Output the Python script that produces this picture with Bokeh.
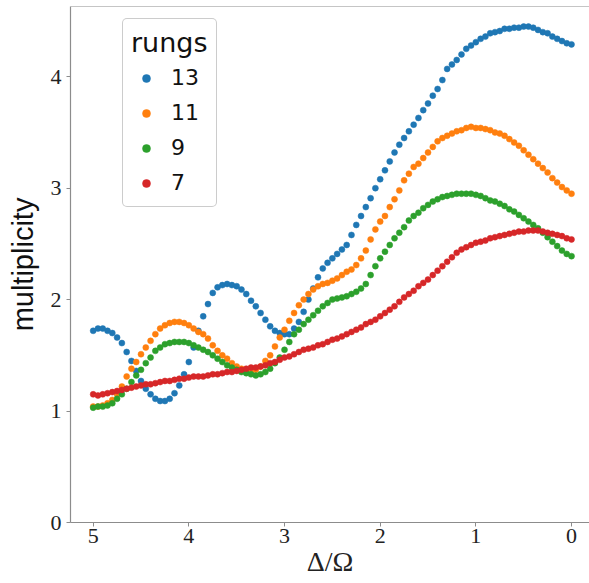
from bokeh.plotting import figure
from bokeh.models import Range1d, Span, Legend, LegendItem, FixedTicker
from bokeh.embed import file_html
from bokeh.resources import INLINE

# x values: Delta/Omega from 5.00 down to 0.00 in steps of 0.05
x_vals = [round(5.0 - 0.05 * i, 2) for i in range(101)]

rungs13 = [1.72, 1.74, 1.74, 1.72, 1.70, 1.66, 1.61, 1.53, 1.45, 1.36,
           1.27, 1.20, 1.15, 1.11, 1.09, 1.09, 1.11, 1.16, 1.23, 1.33,
           1.44, 1.57, 1.72, 1.85, 1.96, 2.06, 2.11, 2.13, 2.14, 2.13,
           2.12, 2.09, 2.05, 1.99, 1.94, 1.88, 1.82, 1.76, 1.72, 1.70,
           1.69, 1.69, 1.74, 1.80, 1.89, 2.00, 2.10, 2.20, 2.28, 2.33,
           2.37, 2.41, 2.45, 2.49, 2.58, 2.67, 2.75, 2.83, 2.91, 3.00,
           3.08, 3.16, 3.24, 3.32, 3.39, 3.45, 3.51, 3.57, 3.63, 3.70,
           3.76, 3.83, 3.89, 3.97, 4.07, 4.11, 4.15, 4.20, 4.25, 4.28,
           4.31, 4.34, 4.36, 4.39, 4.40, 4.41, 4.43, 4.43, 4.44, 4.44,
           4.45, 4.45, 4.44, 4.42, 4.40, 4.39, 4.36, 4.34, 4.32, 4.30,
           4.29]

rungs11 = [1.04, 1.04, 1.05, 1.07, 1.10, 1.15, 1.22, 1.31, 1.38, 1.44,
           1.51, 1.57, 1.63, 1.69, 1.74, 1.77, 1.79, 1.80, 1.80, 1.79,
           1.77, 1.74, 1.71, 1.69, 1.65, 1.59, 1.54, 1.50, 1.47, 1.43,
           1.40, 1.38, 1.37, 1.36, 1.37, 1.40, 1.45, 1.50, 1.58, 1.66,
           1.73, 1.81, 1.88, 1.95, 2.00, 2.05, 2.09, 2.12, 2.14, 2.15,
           2.17, 2.19, 2.22, 2.25, 2.27, 2.31, 2.37, 2.44, 2.54, 2.63,
           2.70, 2.75, 2.83, 2.90, 2.98, 3.07, 3.13, 3.19, 3.22, 3.27,
           3.32, 3.37, 3.42, 3.45, 3.47, 3.49, 3.51, 3.52, 3.54, 3.55,
           3.54, 3.54, 3.53, 3.52, 3.50, 3.49, 3.47, 3.44, 3.41, 3.38,
           3.34, 3.30, 3.26, 3.22, 3.18, 3.14, 3.09, 3.05, 3.01, 2.98,
           2.95]

rungs9 = [1.03, 1.04, 1.04, 1.05, 1.07, 1.11, 1.15, 1.20, 1.26, 1.32,
          1.37, 1.43, 1.48, 1.54, 1.57, 1.60, 1.61, 1.62, 1.62, 1.62,
          1.61, 1.59, 1.57, 1.55, 1.53, 1.50, 1.47, 1.44, 1.41, 1.39,
          1.37, 1.35, 1.34, 1.33, 1.32, 1.33, 1.35, 1.38, 1.43, 1.48,
          1.55, 1.62, 1.69, 1.73, 1.78, 1.82, 1.86, 1.90, 1.94, 1.97,
          2.00, 2.01, 2.02, 2.03, 2.05, 2.07, 2.10, 2.14, 2.22, 2.30,
          2.37, 2.43, 2.49, 2.55, 2.60, 2.65, 2.71, 2.75, 2.78, 2.82,
          2.85, 2.88, 2.90, 2.92, 2.93, 2.94, 2.95, 2.95, 2.95, 2.95,
          2.94, 2.93, 2.91, 2.89, 2.88, 2.86, 2.84, 2.81, 2.79, 2.76,
          2.73, 2.70, 2.67, 2.64, 2.60, 2.56, 2.52, 2.48, 2.44, 2.41,
          2.39]

rungs7 = [1.15, 1.14, 1.15, 1.16, 1.17, 1.18, 1.19, 1.20, 1.21, 1.22,
          1.23, 1.24, 1.24, 1.25, 1.26, 1.27, 1.27, 1.28, 1.29, 1.29,
          1.30, 1.31, 1.31, 1.31, 1.32, 1.33, 1.33, 1.34, 1.35, 1.35,
          1.36, 1.37, 1.38, 1.39, 1.39, 1.40, 1.41, 1.43, 1.44, 1.46,
          1.48, 1.49, 1.51, 1.53, 1.55, 1.56, 1.57, 1.59, 1.60, 1.62,
          1.64, 1.65, 1.67, 1.69, 1.71, 1.73, 1.75, 1.78, 1.80, 1.82,
          1.85, 1.88, 1.91, 1.94, 1.98, 2.02, 2.05, 2.08, 2.12, 2.15,
          2.18, 2.22, 2.26, 2.30, 2.34, 2.38, 2.42, 2.45, 2.47, 2.49,
          2.51, 2.52, 2.53, 2.55, 2.56, 2.57, 2.58, 2.59, 2.60, 2.61,
          2.61, 2.62, 2.62, 2.62, 2.61, 2.60, 2.59, 2.58, 2.57, 2.55,
          2.54]

series_labels = ["13", "11", "9", "7"]
series_values = [rungs13, rungs11, rungs9, rungs7]
series_colors = ["#1f77b4", "#ff7f0e", "#2ca02c", "#d62728"]
x_ticks = [0, 1, 2, 3, 4, 5]
y_ticks = [0, 1, 2, 3, 4]
x_title = "Δ/Ω"
y_title = "multiplicity"
legend_title = "rungs"

Y_TOP = 4.63
p = figure(width=589, height=583, output_backend="svg", toolbar_location=None,
           x_range=Range1d(5.237, -0.188), y_range=Range1d(0, Y_TOP),
           min_border_left=70, min_border_right=0, min_border_top=6,
           min_border_bottom=61)
p.outline_line_color = None
p.grid.visible = False
p.background_fill_color = "white"
p.border_fill_color = "white"

items = []
for lab, vals, col in zip(series_labels, series_values, series_colors):
    r = p.scatter(x_vals, vals, size=6, fill_color=col, line_color=col,
                  line_width=0.5)
    items.append(LegendItem(label=lab, renderers=[r]))

p.add_layout(Span(location=Y_TOP, dimension="width", line_color="#8c8c8c",
                  line_width=1.2))

serif = "Liberation Serif"
for ax in (p.xaxis[0], p.yaxis[0]):
    ax.axis_line_color = "#8c8c8c"
    ax.axis_line_width = 1.2
    ax.major_tick_line_color = "#8c8c8c"
    ax.major_tick_out = 4
    ax.major_tick_in = 0
    ax.minor_tick_line_color = None
    ax.major_label_text_font = serif
    ax.major_label_text_font_size = "22px"
    ax.major_label_text_color = "#222222"

p.xaxis[0].ticker = FixedTicker(ticks=x_ticks)
p.yaxis[0].ticker = FixedTicker(ticks=y_ticks)
p.xaxis[0].major_label_standoff = 2
p.yaxis[0].major_label_standoff = 5

p.xaxis[0].axis_label = x_title
p.xaxis[0].axis_label_text_font = serif
p.xaxis[0].axis_label_text_font_style = "normal"
p.xaxis[0].axis_label_text_font_size = "28px"
p.xaxis[0].axis_label_text_color = "#222222"
p.xaxis[0].axis_label_standoff = 0

p.yaxis[0].axis_label = y_title
p.yaxis[0].axis_label_text_font = "Liberation Sans"
p.yaxis[0].axis_label_text_font_style = "normal"
p.yaxis[0].axis_label_text_font_size = "29px"
p.yaxis[0].axis_label_text_color = "#111111"
p.yaxis[0].axis_label_standoff = 9

legend = Legend(items=items, location=(52, 315), title=legend_title)
legend.title_text_font = "DejaVu Sans"
legend.title_text_font_size = "27px"
legend.title_text_font_style = "normal"
legend.title_text_color = "#111111"
legend.title_standoff = 4
legend.label_text_font = "DejaVu Sans"
legend.label_text_font_size = "22px"
legend.label_text_color = "#111111"
legend.label_height = 31
legend.label_standoff = 10
legend.glyph_width = 30
legend.glyph_height = 20
legend.spacing = 4
legend.padding = 8
legend.margin = 0
legend.border_line_color = "#999999"
legend.border_line_width = 1
legend.border_radius = 5
legend.background_fill_alpha = 1.0
p.add_layout(legend, "center")

open("out.html", "w").write(file_html(p, INLINE))
